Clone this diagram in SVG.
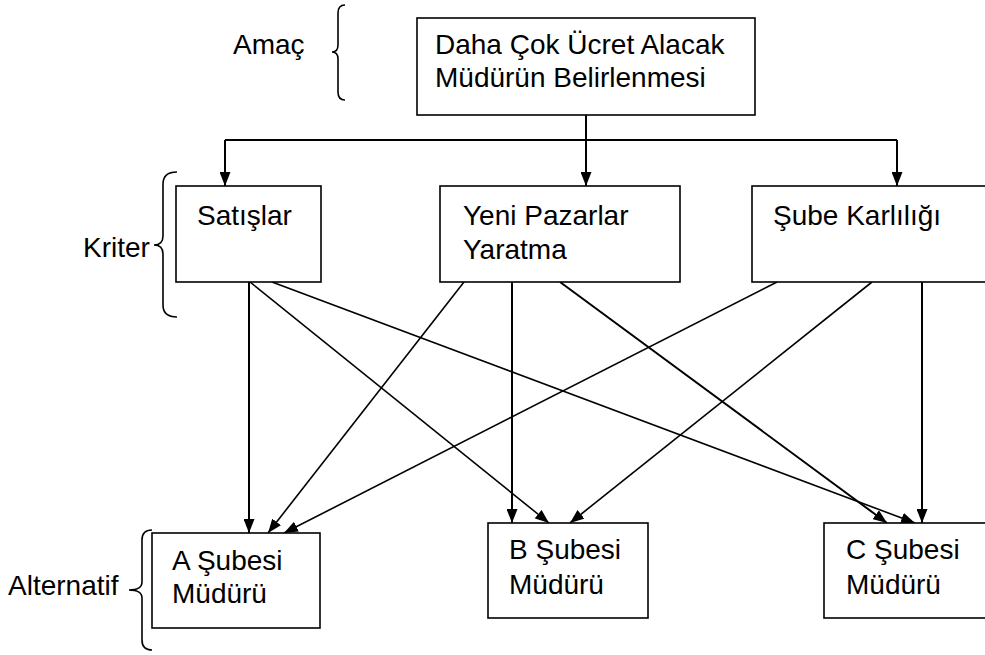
<svg xmlns="http://www.w3.org/2000/svg" width="985" height="655" viewBox="0 0 985 655">
  <style>
    text { font-family: "Liberation Sans", Arial, sans-serif; font-size: 28px; fill: #000; }
    .box { fill: #fff; stroke: #000; stroke-width: 1.6; }
    .brace { fill: none; stroke: #000; stroke-width: 1.6; }
    .link { fill: none; stroke: #000; stroke-width: 1.6; }
    .bold { stroke-width: 2; }
    .arrow { marker-end: url(#head); }
  </style>
  <defs>
    <marker id="head" markerUnits="userSpaceOnUse" markerWidth="15" markerHeight="11" refX="14" refY="5.5" orient="auto">
      <path d="M0,0 L14,5.5 L0,11 z" fill="#000"/>
    </marker>
  </defs>

  <rect width="985" height="655" fill="#fff"/>

  <!-- level labels with braces -->
  <g id="level-goal">
    <text x="233" y="54">Amaç</text>
    <path class="brace" d="M345,5 Q338,5 338,13 L338,45 Q338,52 332,52 Q338,52 338,59 L338,92 Q338,100 345,100"/>
  </g>
  <g id="level-criteria">
    <text x="83" y="257">Kriter</text>
    <path class="brace" d="M177,172 Q163,172 163,184 L163,236 Q163,245 154,245 Q163,245 163,254 L163,305 Q163,317 177,317"/>
  </g>
  <g id="level-alternatives">
    <text x="8" y="595">Alternatif</text>
    <path class="brace" d="M152,530 Q142,530 142,540 L142,582 Q142,590 129,590 Q142,590 142,598 L142,640 Q142,650 152,650"/>
  </g>

  <!-- connectors -->
  <g id="connectors">
    <path class="link bold" d="M586,115 L586,140 M225,140 L897,140"/>
    <path class="link bold arrow" d="M225,140 L225,186"/>
    <path class="link bold arrow" d="M586,140 L586,186"/>
    <path class="link bold arrow" d="M897,140 L897,186"/>

    <path class="link bold arrow" d="M249,282 L249,533"/>
    <path class="link arrow" d="M250,282 L549,523"/>
    <path class="link arrow" d="M272,282 L915,523"/>

    <path class="link arrow" d="M464,282 L268,533"/>
    <path class="link bold arrow" d="M512,282 L512,523"/>
    <path class="link bold arrow" d="M560,282 L887,523"/>

    <path class="link arrow" d="M777,282 L284,533"/>
    <path class="link arrow" d="M872,282 L570,523"/>
    <path class="link bold arrow" d="M922,282 L922,523"/>
  </g>

  <!-- goal -->
  <g id="goal">
    <rect class="box" x="417" y="18" width="338" height="97"/>
    <text x="435" y="54">Daha Çok Ücret Alacak</text>
    <text x="435" y="87">Müdürün Belirlenmesi</text>
  </g>

  <!-- criteria -->
  <g id="crit-sales">
    <rect class="box" x="176" y="186" width="145" height="96"/>
    <text x="197" y="225">Satışlar</text>
  </g>
  <g id="crit-markets">
    <rect class="box" x="440" y="186" width="240" height="96"/>
    <text x="463" y="225">Yeni Pazarlar</text>
    <text x="463" y="259">Yaratma</text>
  </g>
  <g id="crit-profit">
    <rect class="box" x="752" y="186" width="240" height="96"/>
    <text x="773" y="225">Şube Karlılığı</text>
  </g>

  <!-- alternatives -->
  <g id="alt-a">
    <rect class="box" x="152" y="533" width="168" height="95"/>
    <text x="172" y="570">A Şubesi</text>
    <text x="172" y="603">Müdürü</text>
  </g>
  <g id="alt-b">
    <rect class="box" x="488" y="523" width="160" height="95"/>
    <text x="509" y="559">B Şubesi</text>
    <text x="509" y="594">Müdürü</text>
  </g>
  <g id="alt-c">
    <rect class="box" x="824" y="523" width="170" height="95"/>
    <text x="846" y="559">C Şubesi</text>
    <text x="846" y="594">Müdürü</text>
  </g>
</svg>
